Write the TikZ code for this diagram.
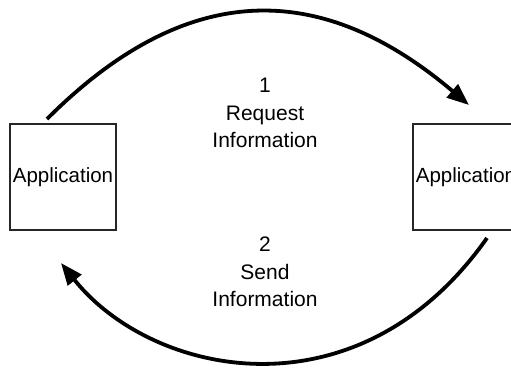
\documentclass[tikz,border=0pt]{standalone}
\usepackage{fontspec}
\setmainfont{Liberation Sans}
\usetikzlibrary{arrows.meta}
\begin{document}
\begin{tikzpicture}[x=1pt,y=-1pt,
  appbox/.style={draw=black!85,line width=1.1pt,minimum width=106pt,minimum height=106pt,
    inner sep=0pt,font=\fontsize{20.5}{24}\selectfont},
  flow/.style={line width=3.8pt,-{Triangle[length=22pt,width=17pt]}},
  lbl/.style={align=center,anchor=north,inner sep=0pt,font=\fontsize{21}{27.5}\selectfont}]
\useasboundingbox (0,0) rectangle (511,367);
\clip (0,0) rectangle (511,367);
% the two applications
\node[appbox] (left) at (63,177) {Application};
\node[appbox] (right) at (466,177) {Application};
% connector end points on the boxes
\coordinate (ltop) at (47,119);
\coordinate (rtip) at (469,105);
\coordinate (rbot) at (487,238);
\coordinate (ltip) at (61,263);
% request and reply arcs
\draw[flow] (ltop) .. controls (197,-31) and (332,-11) .. (rtip);
\draw[flow] (rbot) .. controls (358,421) and (152,377) .. (ltip);
% labels
\node[lbl] (req) at (265,78) {1\\Request\\Information};
\node[lbl] (snd) at (265,237) {2\\Send\\Information};
\end{tikzpicture}
\end{document}
